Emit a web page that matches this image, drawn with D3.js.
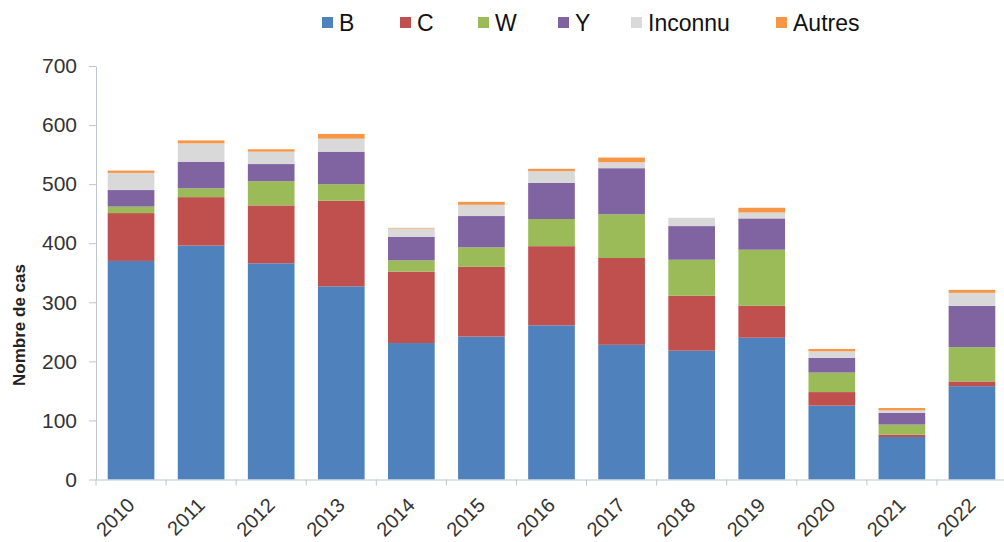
<!DOCTYPE html>
<html>
<head>
<meta charset="utf-8">
<script src="https://cdn.jsdelivr.net/npm/d3@7"></script>
<style>
  body { margin: 0; background: #fff; }
  svg text { font-family: "Liberation Sans", Arial, sans-serif; }
</style>
</head>
<body>
<svg class="chart"></svg>
<script>
const width = 1004,
      height = 542

// data
const years = ["2010", "2011", "2012", "2013", "2014", "2015", "2016", "2017", "2018", "2019", "2020", "2021", "2022"]
const seriesNames = ["B", "C", "W", "Y", "Inconnu", "Autres"]
const valB       = [370, 396, 366, 327, 231, 242, 261, 228, 218, 240, 125, 72, 158]
const valC       = [81, 82, 98, 145, 121, 118, 134, 147, 93, 54, 23, 4, 8]
const valW       = [11, 15, 41, 28, 19, 33, 46, 74, 61, 95, 33, 17, 58]
const valY       = [28, 45, 29, 55, 40, 53, 61, 78, 57, 53, 25, 20, 70]
const valInconnu = [29, 31, 21, 22, 14, 19, 20, 10, 14, 10, 11, 4, 22]
const valAutres  = [4, 5, 4, 8, 1, 5, 4, 8, 0, 8, 4, 4, 5]
const yTicks = [0, 100, 200, 300, 400, 500, 600, 700]

const colors = ["#4f81bd", "#c0504d", "#9bbb59", "#8064a2", "#d9d9d9", "#f79646"]

const rows = years.map((y, i) => ({
  year: y,
  B: valB[i], C: valC[i], W: valW[i], Y: valY[i], Inconnu: valInconnu[i], Autres: valAutres[i]
}))

const stack = d3.stack().keys(seriesNames)(rows)

const chart = d3.select(".chart")
    .attr("width", width)
    .attr("height", height)

const x = d3.scaleBand()
    .domain(years)
    .range([96, 1007])
    .paddingInner(0.334)
    .paddingOuter(0.167)

const y = d3.scaleLinear()
    .domain([0, 700])
    .range([479.5, 66])

const color = d3.scaleOrdinal().domain(seriesNames).range(colors)

// bars
chart.append("g")
  .selectAll("g")
  .data(stack)
  .enter()
  .append("g")
    .attr("fill", (d) => color(d.key))
  .selectAll("rect")
  .data((d) => d)
  .enter()
  .append("rect")
    .attr("x", (d) => x(d.data.year))
    .attr("width", x.bandwidth())
    .attr("y", (d) => y(d[1]))
    .attr("height", (d) => y(d[0]) - y(d[1]))

// y axis
const yAxis = chart.append("g")
    .attr("transform", "translate(96,0)")
    .call(d3.axisLeft(y).tickValues(yTicks).tickSize(7).tickPadding(12).tickSizeOuter(0))

yAxis.select(".domain").attr("stroke", "#bcc6d2")
yAxis.selectAll(".tick line").attr("stroke", "#bcc6d2")
yAxis.selectAll(".tick text")
    .attr("fill", "#333")
    .style("font-size", "21px")

// x axis, ticks between the bars
const xAxis = chart.append("g")
    .attr("transform", `translate(0,${y(0)})`)
    .call(d3.axisBottom(x).tickSize(0).tickSizeOuter(0).tickFormat(""))

xAxis.select(".domain").attr("stroke", "#bcc6d2")

chart.append("g")
  .selectAll("line")
  .data(years)
  .enter()
  .append("line")
    .attr("x1", (d) => x(d) - x.step() * x.paddingInner() / 2)
    .attr("x2", (d) => x(d) - x.step() * x.paddingInner() / 2)
    .attr("y1", y(0))
    .attr("y2", y(0) + 6)
    .attr("stroke", "#bcc6d2")

chart.append("g")
  .selectAll("text")
  .data(years)
  .enter()
  .append("text")
    .attr("transform", (d) => `translate(${x(d) + x.bandwidth() / 2 - 5},${y(0) + 17}) rotate(-45)`)
    .attr("text-anchor", "end")
    .attr("dy", "0.7em")
    .attr("fill", "#333")
    .style("font-size", "20px")
    .text((d) => d)

// y axis title
chart.append("text")
    .attr("transform", "translate(25,325) rotate(-90)")
    .attr("text-anchor", "middle")
    .attr("fill", "#222")
    .style("font-size", "17px")
    .style("font-weight", "bold")
    .text("Nombre de cas")

// legend
const legendX = [322, 400, 478, 558, 631, 776]

const legend = chart.append("g")
  .selectAll("g")
  .data(seriesNames)
  .enter()
  .append("g")
    .attr("transform", (d, i) => `translate(${legendX[i]},0)`)

legend.append("rect")
    .attr("x", 0)
    .attr("y", 17)
    .attr("width", 11)
    .attr("height", 11)
    .attr("fill", (d) => color(d))

legend.append("text")
    .attr("x", 17)
    .attr("y", 31)
    .attr("fill", "#111")
    .style("font-size", "23px")
    .text((d) => d)
</script>
</body>
</html>
